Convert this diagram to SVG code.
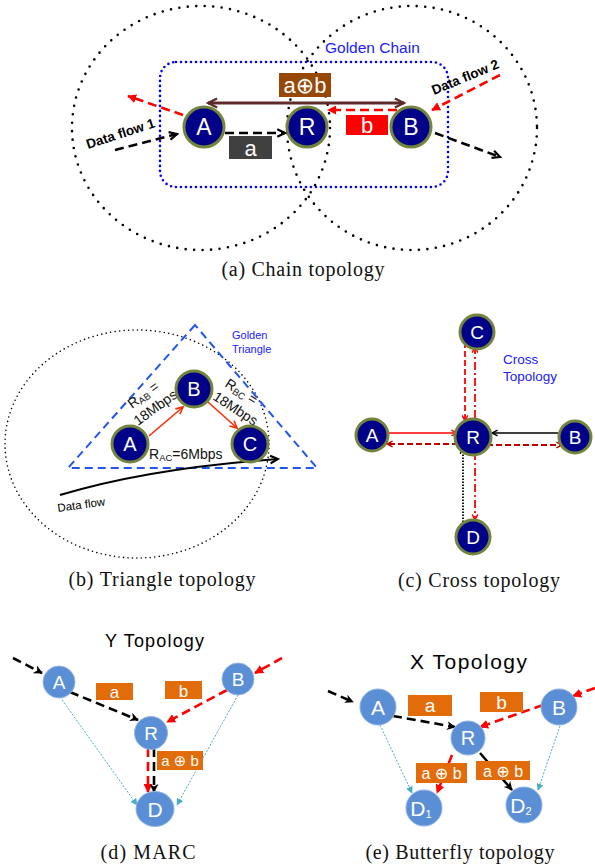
<svg xmlns="http://www.w3.org/2000/svg" width="595" height="868" viewBox="0 0 595 868">
  <style>
    .sans { font-family: "Liberation Sans", "DejaVu Sans", sans-serif; }
    .cap { font-family: "Liberation Serif", "DejaVu Serif", serif; font-size: 20px; fill: #111; text-anchor: middle; }
    .navy { fill: #000088; stroke: #73843c; stroke-width: 3; }
    .sky { fill: #5b8fd5; stroke: #8fb3e6; stroke-width: 1; }
    .lbl { font-family: "Liberation Sans", "DejaVu Sans", sans-serif; fill: #fff; text-anchor: middle; }
    .ring { fill: none; stroke: #000; stroke-width: 2.6; stroke-dasharray: 0 8.5; stroke-linecap: round; }
    .kdash { fill: none; stroke: #000; stroke-width: 2.6; stroke-dasharray: 9 5; }
    .rdash { fill: none; stroke: #ff0000; stroke-width: 2.6; stroke-dasharray: 9 5; }
    .teal { fill: none; stroke: #4bacc6; stroke-width: 1; stroke-dasharray: 2 1.5; }
    .box { fill: #e36c0a; }
  </style>
  <defs>
    <marker id="chevK" viewBox="0 0 10 10" refX="8.5" refY="5" markerWidth="11" markerHeight="11" orient="auto-start-reverse" markerUnits="userSpaceOnUse">
      <path d="M1.5,1.5 L8.5,5 L1.5,8.5" fill="none" stroke="#000" stroke-width="2"/>
    </marker>
    <marker id="chevKs" viewBox="0 0 10 10" refX="8.5" refY="5" markerWidth="8" markerHeight="8" orient="auto-start-reverse" markerUnits="userSpaceOnUse">
      <path d="M1.5,1.5 L8.5,5 L1.5,8.5" fill="none" stroke="#000" stroke-width="1.8"/>
    </marker>
    <marker id="chevBr" viewBox="0 0 10 10" refX="8.5" refY="5" markerWidth="13" markerHeight="13" orient="auto-start-reverse" markerUnits="userSpaceOnUse">
      <path d="M1.5,1.5 L8.5,5 L1.5,8.5" fill="none" stroke="#5f2a2a" stroke-width="1.8"/>
    </marker>
    <marker id="chevR" viewBox="0 0 10 10" refX="8.5" refY="5" markerWidth="8" markerHeight="8" orient="auto-start-reverse" markerUnits="userSpaceOnUse">
      <path d="M1.5,1.5 L8.5,5 L1.5,8.5" fill="none" stroke="#ff0000" stroke-width="1.8"/>
    </marker>
    <marker id="chevDR" viewBox="0 0 10 10" refX="8.5" refY="5" markerWidth="8" markerHeight="8" orient="auto-start-reverse" markerUnits="userSpaceOnUse">
      <path d="M1.5,1.5 L8.5,5 L1.5,8.5" fill="none" stroke="#c00000" stroke-width="1.8"/>
    </marker>
    <marker id="chevRL" viewBox="0 0 10 10" refX="8.5" refY="5" markerWidth="10" markerHeight="10" orient="auto-start-reverse" markerUnits="userSpaceOnUse">
      <path d="M1.5,1.5 L8.5,5 L1.5,8.5" fill="none" stroke="#ff2a00" stroke-width="1.6"/>
    </marker>
    <marker id="triR" viewBox="0 0 10 10" refX="9" refY="5" markerWidth="9" markerHeight="9" orient="auto" markerUnits="userSpaceOnUse">
      <path d="M0,0 L10,5 L0,10 z" fill="#ff0000"/>
    </marker>
    <marker id="triK" viewBox="0 0 10 10" refX="9" refY="5" markerWidth="9" markerHeight="9" orient="auto" markerUnits="userSpaceOnUse">
      <path d="M0,0 L10,5 L0,10 L3,5 z" fill="#000"/>
    </marker>
    <marker id="triT" viewBox="0 0 10 10" refX="9" refY="5" markerWidth="7" markerHeight="7" orient="auto" markerUnits="userSpaceOnUse">
      <path d="M0,0 L10,5 L0,10 z" fill="#4bacc6"/>
    </marker>
  </defs>

  <!-- ===== (a) Chain topology ===== -->
  <g id="chain-ranges">
    <ellipse class="ring" cx="201" cy="128" rx="129" ry="122"/>
    <ellipse class="ring" cx="412" cy="128" rx="125" ry="122"/>
    <rect x="160" y="62" width="288" height="125" rx="16" fill="none" stroke="#0000ff" stroke-width="2.6" stroke-dasharray="0 5" stroke-linecap="round"/>
    <text class="sans" x="325" y="53" font-size="15.5" fill="#2020ff">Golden Chain</text>
  </g>

  <g id="chain-links">
    <line x1="208" y1="103" x2="404" y2="103" stroke="#5f2a2a" stroke-width="3" marker-start="url(#chevBr)" marker-end="url(#chevBr)"/>
    <line class="kdash" x1="225" y1="133" x2="285" y2="133" marker-end="url(#chevK)"/>
    <line class="kdash" x1="115" y1="150" x2="177" y2="134" marker-end="url(#chevK)"/>
    <line class="rdash" x1="183" y1="115" x2="128" y2="96" marker-end="url(#triR)"/>
    <line class="rdash" x1="397" y1="110" x2="328" y2="110" marker-end="url(#triR)"/>
    <line class="rdash" x1="500" y1="75" x2="432" y2="110" marker-end="url(#triR)"/>
    <line class="kdash" x1="435" y1="133" x2="500" y2="157" marker-end="url(#chevK)"/>
  </g>

  <g id="chain-packets">
    <rect x="279" y="73" width="52" height="24" fill="#974806"/>
    <text class="lbl" x="305" y="93" font-size="22">a⊕b</text>
    <rect x="346" y="115" width="42" height="20" fill="#ff0000"/>
    <text class="lbl" x="367" y="133" font-size="22">b</text>
    <rect x="229" y="136" width="43" height="23" fill="#404040"/>
    <text class="lbl" x="250.5" y="156" font-size="22" fill="#eee">a</text>
    <text class="sans" x="88" y="149" font-size="13.5" font-weight="bold" transform="rotate(-18 88 149)">Data flow 1</text>
    <text class="sans" x="434" y="95" font-size="13.5" font-weight="bold" transform="rotate(-22.5 434 95)">Data flow 2</text>
  </g>

  <g id="chain-A"><circle class="navy" cx="204" cy="127" r="20"/><text class="lbl" x="204" y="135" font-size="23">A</text></g>
  <g id="chain-R"><circle class="navy" cx="307" cy="127" r="20"/><text class="lbl" x="307" y="135" font-size="23">R</text></g>
  <g id="chain-B"><circle class="navy" cx="411" cy="127" r="20"/><text class="lbl" x="411" y="135" font-size="23">B</text></g>

  <text class="cap" x="303" y="276" textLength="163" lengthAdjust="spacing">(a) Chain topology</text>

  <!-- ===== (b) Triangle topology ===== -->
  <g id="tri-ranges">
    <ellipse cx="137" cy="444" rx="132" ry="114" fill="none" stroke="#000" stroke-width="1.6" stroke-dasharray="0 4.5" stroke-linecap="round"/>
    <polygon points="195,325 68,468 317,468" fill="none" stroke="#2255ee" stroke-width="2" stroke-dasharray="8 5"/>
    <text class="sans" x="232" y="339" font-size="11" fill="#2020ff">Golden</text>
    <text class="sans" x="232" y="353" font-size="11" fill="#2020ff">Triangle</text>
  </g>

  <g id="tri-links">
    <line x1="149" y1="436" x2="183" y2="407" stroke="#ff2a00" stroke-width="1.6" marker-end="url(#chevRL)"/>
    <line x1="208" y1="402" x2="237" y2="428" stroke="#ff2a00" stroke-width="1.6" marker-end="url(#chevRL)"/>
    <path d="M60,495 Q150,468 278,459" fill="none" stroke="#000" stroke-width="2" marker-end="url(#chevK)"/>
    <text class="sans" x="58" y="512" font-size="11.5" transform="rotate(-8 58 512)">Data flow</text>
  </g>

  <g id="tri-rates" class="sans" font-size="14" fill="#111">
    <text transform="translate(132,409) rotate(-36)">R<tspan font-size="9.5" dy="2">AB</tspan><tspan dy="-2"> =</tspan></text>
    <text transform="translate(138,426) rotate(-36)">18Mbps</text>
    <text transform="translate(224,386) rotate(33)">R<tspan font-size="9.5" dy="2">BC</tspan><tspan dy="-2"> =</tspan></text>
    <text transform="translate(212,399) rotate(33)">18Mbps</text>
    <text x="149" y="459">R<tspan font-size="9.5" dy="2">AC</tspan><tspan dy="-2">=6Mbps</tspan></text>
  </g>

  <g id="tri-A"><circle class="navy" cx="130" cy="444" r="18" stroke-width="2.5"/><text class="lbl" x="130" y="451" font-size="20">A</text></g>
  <g id="tri-B"><circle class="navy" cx="194" cy="389" r="18" stroke-width="2.5"/><text class="lbl" x="194" y="396" font-size="20">B</text></g>
  <g id="tri-C"><circle class="navy" cx="250" cy="444" r="18" stroke-width="2.5"/><text class="lbl" x="250" y="451" font-size="20">C</text></g>

  <text class="cap" x="162" y="586" textLength="187" lengthAdjust="spacing">(b) Triangle topology</text>

  <!-- ===== (c) Cross topology ===== -->
  <text class="sans" x="503" y="364" font-size="13.5" fill="#2020ff">Cross</text>
  <text class="sans" x="503" y="381" font-size="13.5" fill="#2020ff">Topology</text>

  <g id="cross-links">
    <line x1="465" y1="342" x2="465" y2="421" stroke="#ff0000" stroke-width="1.8" stroke-dasharray="6 3" marker-end="url(#chevR)"/>
    <line x1="475" y1="418" x2="475" y2="347" stroke="#ff0000" stroke-width="1.8" stroke-dasharray="8 3 2 3" marker-end="url(#chevR)"/>
    <line x1="388" y1="433" x2="457" y2="433" stroke="#ff0000" stroke-width="1.6" marker-end="url(#chevR)"/>
    <line x1="458" y1="444" x2="387" y2="444" stroke="#c00000" stroke-width="1.8" stroke-dasharray="6 3" marker-end="url(#chevDR)"/>
    <line x1="558" y1="433" x2="492" y2="433" stroke="#000" stroke-width="1.6" marker-end="url(#chevKs)"/>
    <line x1="487" y1="445" x2="562" y2="445" stroke="#c00000" stroke-width="1.8" stroke-dasharray="6 3" marker-end="url(#chevDR)"/>
    <line x1="475" y1="452" x2="475" y2="520" stroke="#ff0000" stroke-width="1.8" stroke-dasharray="8 3 2 3" marker-end="url(#chevR)"/>
    <line x1="463" y1="525" x2="463" y2="448" stroke="#000" stroke-width="1.8" stroke-dasharray="1.5 1.5" marker-end="url(#chevKs)"/>
  </g>

  <g id="cross-C"><circle class="navy" cx="477" cy="332" r="17" stroke-width="2.5"/><text class="lbl" x="477" y="339" font-size="19">C</text></g>
  <g id="cross-R"><circle class="navy" cx="473" cy="437" r="18" stroke-width="2.5"/><text class="lbl" x="473" y="444" font-size="19">R</text></g>
  <g id="cross-A"><circle class="navy" cx="372" cy="435" r="16" stroke-width="2.5"/><text class="lbl" x="372" y="442" font-size="19">A</text></g>
  <g id="cross-B"><circle class="navy" cx="575" cy="437" r="16" stroke-width="2.5"/><text class="lbl" x="575" y="444" font-size="19">B</text></g>
  <g id="cross-D"><circle class="navy" cx="473" cy="537" r="17" stroke-width="2.5"/><text class="lbl" x="473" y="544" font-size="19">D</text></g>

  <text class="cap" x="479" y="587" textLength="162" lengthAdjust="spacing">(c) Cross topology</text>

  <!-- ===== (d) MARC / Y topology ===== -->
  <text class="sans" x="154.5" y="647" font-size="18" text-anchor="middle" textLength="99" lengthAdjust="spacing">Y Topology</text>

  <g id="y-links">
    <line class="kdash" x1="13" y1="658" x2="42" y2="673" stroke-width="2.2" marker-end="url(#triK)"/>
    <line class="kdash" x1="70" y1="692" x2="138" y2="720" stroke-width="2.2" marker-end="url(#triK)"/>
    <line class="rdash" x1="282" y1="658" x2="255" y2="673" stroke-width="2.2" marker-end="url(#triR)"/>
    <line class="rdash" x1="227" y1="690" x2="167" y2="722" stroke-width="2.2" marker-end="url(#triR)"/>
    <line class="rdash" x1="148" y1="748" x2="148" y2="792" stroke-width="2.4" marker-end="url(#triR)"/>
    <line class="kdash" x1="154" y1="748" x2="154" y2="792" stroke-width="2.4" marker-end="url(#triK)"/>
    <line class="teal" x1="60" y1="697" x2="137" y2="805" marker-end="url(#triT)"/>
    <line class="teal" x1="238" y1="695" x2="177" y2="805" marker-end="url(#triT)"/>
  </g>

  <g id="y-packets">
    <rect class="box" x="96" y="683" width="37" height="17"/>
    <text class="lbl" x="114.5" y="698" font-size="17">a</text>
    <rect class="box" x="165" y="681" width="37" height="18"/>
    <text class="lbl" x="183.5" y="697" font-size="17">b</text>
    <rect class="box" x="157" y="751" width="46" height="19"/>
    <text class="lbl" x="180" y="766" font-size="15">a ⊕ b</text>
  </g>

  <g id="y-A"><circle class="sky" cx="59" cy="682" r="16"/><text class="lbl" x="59" y="689" font-size="19">A</text></g>
  <g id="y-B"><circle class="sky" cx="238" cy="679" r="16"/><text class="lbl" x="238" y="686" font-size="19">B</text></g>
  <g id="y-R"><circle class="sky" cx="151" cy="733" r="16.5"/><text class="lbl" x="151" y="740" font-size="19">R</text></g>
  <g id="y-D"><ellipse class="sky" cx="155" cy="809" rx="19" ry="17.5"/><text class="lbl" x="155" y="817" font-size="21">D</text></g>

  <text class="cap" x="148" y="859" textLength="95" lengthAdjust="spacing">(d) MARC</text>

  <!-- ===== (e) Butterfly / X topology ===== -->
  <text class="sans" x="468.5" y="669" font-size="21" text-anchor="middle" textLength="117" lengthAdjust="spacing">X Topology</text>

  <g id="x-links">
    <line class="kdash" x1="328" y1="691" x2="353" y2="702" stroke-width="2.2" marker-end="url(#triK)"/>
    <line class="kdash" x1="393" y1="716" x2="455" y2="727" stroke-width="2.2" marker-end="url(#triK)"/>
    <line class="rdash" x1="595" y1="688" x2="573" y2="696" stroke-width="2.2" marker-end="url(#triR)"/>
    <line class="rdash" x1="543" y1="705" x2="480" y2="727" stroke-width="2.2" marker-end="url(#triR)"/>
    <line class="rdash" x1="452" y1="755" x2="437" y2="793" stroke-width="2.2" marker-end="url(#triR)"/>
    <line x1="480" y1="753" x2="512" y2="790" stroke="#000" stroke-width="2.4" marker-end="url(#triK)"/>
    <line class="teal" x1="380" y1="725" x2="412" y2="793" marker-end="url(#triT)"/>
    <line class="teal" x1="560" y1="726" x2="538" y2="790" marker-end="url(#triT)"/>
  </g>

  <g id="x-packets">
    <rect class="box" x="408" y="695" width="44" height="21"/>
    <text class="lbl" x="430" y="712" font-size="19">a</text>
    <rect class="box" x="480" y="692" width="43" height="20"/>
    <text class="lbl" x="501.5" y="709" font-size="19">b</text>
    <rect class="box" x="416" y="763" width="51" height="20"/>
    <text class="lbl" x="441.5" y="779" font-size="16">a ⊕ b</text>
    <rect class="box" x="476" y="761" width="54" height="19"/>
    <text class="lbl" x="503" y="777" font-size="16">a ⊕ b</text>
  </g>

  <g id="x-A"><circle class="sky" cx="378" cy="707" r="18"/><text class="lbl" x="378" y="715" font-size="21">A</text></g>
  <g id="x-B"><circle class="sky" cx="559" cy="707" r="18"/><text class="lbl" x="559" y="715" font-size="21">B</text></g>
  <g id="x-R"><circle class="sky" cx="468" cy="738" r="17"/><text class="lbl" x="468" y="745" font-size="20">R</text></g>
  <g id="x-D1"><circle class="sky" cx="424" cy="808" r="18"/><text class="lbl" x="421" y="816" font-size="21">D<tspan font-size="11" dy="2">1</tspan></text></g>
  <g id="x-D2"><circle class="sky" cx="524" cy="805" r="18"/><text class="lbl" x="521" y="813" font-size="21">D<tspan font-size="11" dy="2">2</tspan></text></g>

  <text class="cap" x="460" y="859" textLength="189" lengthAdjust="spacing">(e) Butterfly topology</text>
</svg>
